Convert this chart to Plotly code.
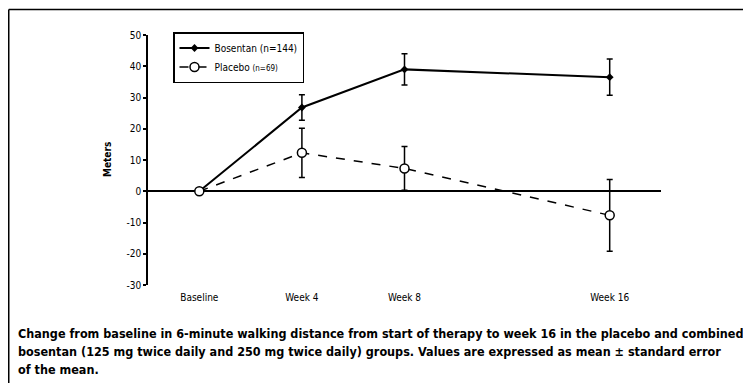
import plotly.graph_objects as go

weeks = [0, 4, 8, 16]
tick_labels = ["Baseline", "Week 4", "Week 8", "Week 16"]
y_ticks = [-30, -20, -10, 0, 10, 20, 30, 40, 50]
y_tick_labels = ["-30", "-20", "-10", "0", "10", "20", "30", "40", "50"]
bosentan = [0, 26.8, 39.0, 36.5]
bosentan_se = [0, 4.1, 5.0, 5.8]
placebo = [0, 12.3, 7.3, -7.7]
placebo_se = [0, 7.9, 7.0, 11.5]
caption_lines = [
    "Change from baseline in 6-minute walking distance from start of therapy to week 16 in the placebo and combined",
    "bosentan (125 mg twice daily and 250 mg twice daily) groups. Values are expressed as mean ± standard error",
    "of the mean.",
]

FONT = "DejaVu Sans Condensed, Liberation Sans Narrow, sans-serif"

# figure is placed 8px from the page's top-left corner (default body margin)
W, H = 743, 375
L, R, T, B = 140, 90, 27, 98
PW, PH = W - L - R, H - T - B


def px(xp):
    return (xp - L) / PW


def py(yp):
    return (H - B - yp) / PH


fig = go.Figure()
fig.add_trace(go.Scatter(
    x=weeks, y=bosentan, mode="lines+markers", name="Bosentan (n=144)",
    line=dict(color="black", width=2),
    marker=dict(symbol="diamond", size=6, color="black"),
    error_y=dict(type="data", array=bosentan_se, color="black", thickness=1.5, width=3),
))
fig.add_trace(go.Scatter(
    x=weeks, y=placebo, mode="lines+markers",
    name="Placebo <span style='font-size:8px'>(n=69)</span>",
    line=dict(color="black", width=1.5, dash="dash"),
    marker=dict(symbol="circle", size=9, color="white", line=dict(color="black", width=1.5)),
    error_y=dict(type="data", array=placebo_se, color="black", thickness=1.5, width=3),
))

annotations = [
    dict(text="<b>Meters</b>", textangle=-90, xref="paper", yref="paper",
         x=px(99), y=py(152), showarrow=False,
         font=dict(family=FONT, size=10), xanchor="center", yanchor="middle"),
]
for i, line in enumerate(caption_lines):
    annotations.append(dict(
        text=f"<b>{line}</b>", xref="paper", yref="paper",
        x=px(8), y=py(325 + 18 * i), xanchor="left", yanchor="middle",
        align="left", showarrow=False,
        font=dict(family=FONT, size=12.5, color="black"),
    ))

fig.update_layout(
    width=W, height=H,
    margin=dict(l=L, r=R, t=T, b=B),
    paper_bgcolor="white", plot_bgcolor="white",
    font=dict(family=FONT, size=10, color="black"),
    showlegend=True,
    legend=dict(
        x=px(165), y=py(24), xanchor="left", yanchor="top",
        bordercolor="black", borderwidth=1.5, bgcolor="white",
        font=dict(family=FONT, size=10, color="black"),
        tracegroupgap=0, itemwidth=30,
    ),
    xaxis=dict(
        range=[-2, 18], tickvals=weeks, ticktext=tick_labels,
        showline=False, showgrid=False, zeroline=False, ticks="",
        ticklabelstandoff=5,
        tickfont=dict(family=FONT, size=10),
    ),
    yaxis=dict(
        range=[-30, 50], tickvals=y_ticks, ticktext=y_tick_labels, showgrid=False,
        showline=True, linecolor="black", linewidth=1.5,
        ticks="outside", ticklen=3, tickwidth=1.5, tickcolor="black",
        zeroline=True, zerolinecolor="black", zerolinewidth=1.5,
        tickfont=dict(family=FONT, size=10),
    ),
    shapes=[
        dict(type="line", xref="paper", yref="paper",
             x0=px(0.75), x1=px(W), y0=py(1.5), y1=py(1.5),
             line=dict(color="black", width=1.5)),
        dict(type="line", xref="paper", yref="paper",
             x0=px(0.75), x1=px(0.75), y0=py(H), y1=py(1.5),
             line=dict(color="black", width=1.5)),
    ],
    annotations=annotations,
)

fig.write_html("out.html")
